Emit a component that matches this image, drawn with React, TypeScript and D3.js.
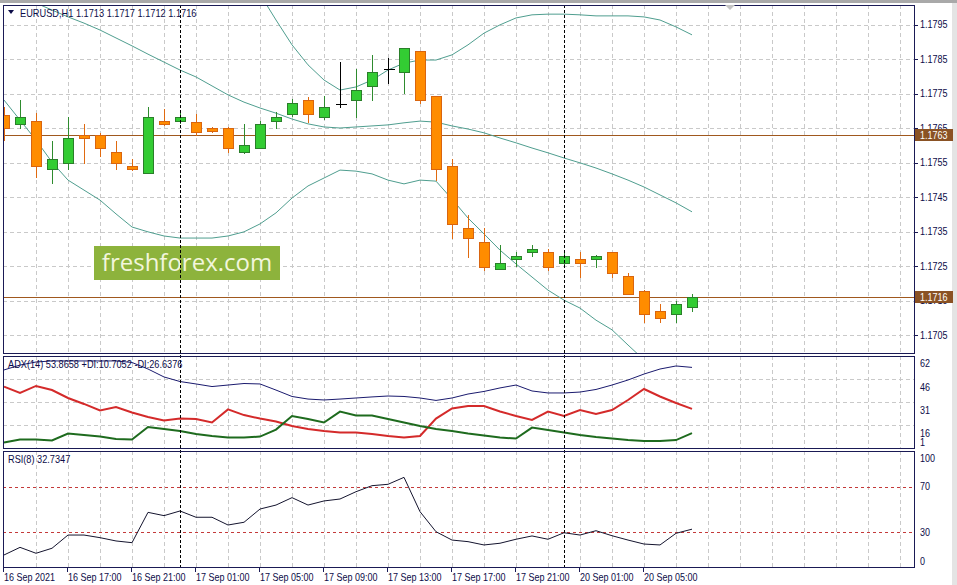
import React from "react";
import * as d3 from "d3";

// ---------- DATA ----------
const barTimes = [
  "16 Sep 13:00","16 Sep 14:00","16 Sep 15:00","16 Sep 16:00","16 Sep 17:00","16 Sep 18:00","16 Sep 19:00","16 Sep 20:00",
  "16 Sep 21:00","16 Sep 22:00","16 Sep 23:00","17 Sep 00:00","17 Sep 01:00","17 Sep 02:00","17 Sep 03:00","17 Sep 04:00",
  "17 Sep 05:00","17 Sep 06:00","17 Sep 07:00","17 Sep 08:00","17 Sep 09:00","17 Sep 10:00","17 Sep 11:00","17 Sep 12:00",
  "17 Sep 13:00","17 Sep 14:00","17 Sep 15:00","17 Sep 16:00","17 Sep 17:00","17 Sep 18:00","17 Sep 19:00","17 Sep 20:00",
  "17 Sep 21:00","17 Sep 22:00","17 Sep 23:00","20 Sep 00:00","20 Sep 01:00","20 Sep 02:00","20 Sep 03:00","20 Sep 04:00",
  "20 Sep 05:00","20 Sep 06:00","20 Sep 07:00","20 Sep 08:00",
];

const openP = [1.17688,1.17662,1.17670,1.17531,1.17549,1.17630,1.17630,1.17580,1.17540,1.17520,1.17670,1.17670,1.17667,1.17650,1.17650,1.17580,1.17592,1.17670,1.17691,1.17731,1.17682,1.17720,1.17731,1.17772,1.17821,1.17812,1.17873,1.17743,1.17540,1.17360,1.17320,1.17241,1.17270,1.17291,1.17291,1.17259,1.17270,1.17270,1.17291,1.17221,1.17178,1.17120,1.17111,1.1713];
const highP = [1.17711,1.17731,1.17693,1.17612,1.17682,1.17662,1.17636,1.17612,1.17560,1.17711,1.17705,1.17693,1.17691,1.17653,1.17653,1.17662,1.17670,1.17696,1.17734,1.17740,1.17743,1.17841,1.17821,1.17862,1.17853,1.17882,1.17873,1.17743,1.17560,1.17398,1.17360,1.17311,1.17291,1.17311,1.17299,1.17293,1.17291,1.17282,1.17291,1.17230,1.17180,1.17140,1.17149,1.1717];
const lowP = [1.17615,1.17650,1.17508,1.17491,1.17531,1.17549,1.17569,1.17531,1.17528,1.17520,1.17659,1.17665,1.17630,1.17638,1.17580,1.17578,1.17592,1.17650,1.17685,1.17667,1.17676,1.17711,1.17682,1.17731,1.17780,1.17751,1.17722,1.17499,1.17331,1.17276,1.17238,1.17241,1.17250,1.17279,1.17238,1.17256,1.17218,1.17247,1.17218,1.17169,1.17088,1.17088,1.17088,1.1712];
const closeP = [1.17650,1.17682,1.17540,1.17560,1.17621,1.17621,1.17592,1.17549,1.17531,1.17682,1.17662,1.17682,1.17638,1.17641,1.17592,1.17601,1.17662,1.17682,1.17722,1.17691,1.17711,1.17720,1.17760,1.17812,1.17821,1.17882,1.17731,1.17531,1.17372,1.17331,1.17247,1.17259,1.17279,1.17299,1.17247,1.17279,1.17259,1.17279,1.17230,1.17169,1.17111,1.17099,1.17140,1.1716];

const bbUpper = [1.18369,1.18386,1.18409,1.18433,1.18444,1.18438,1.18427,1.18421,1.18412,1.18380,1.18346,1.18305,1.18265,1.18212,1.18154,1.18102,1.18038,1.17963,1.17891,1.17833,1.17789,1.17760,1.17769,1.17789,1.17818,1.17838,1.17847,1.17847,1.17862,1.17891,1.17925,1.17949,1.17969,1.17978,1.17980,1.17980,1.17978,1.17975,1.17975,1.17975,1.17972,1.17963,1.17943,1.17920];
const bbMiddle = [1.18050,1.18030,1.18012,1.17992,1.17972,1.17954,1.17934,1.17911,1.17888,1.17864,1.17841,1.17818,1.17798,1.17772,1.17746,1.17725,1.17708,1.17693,1.17676,1.17662,1.17653,1.17650,1.17653,1.17656,1.17659,1.17665,1.17670,1.17667,1.17656,1.17647,1.17636,1.17621,1.17607,1.17592,1.17578,1.17563,1.17549,1.17534,1.17517,1.17499,1.17479,1.17456,1.17433,1.17407];
const bbLower = [1.17731,1.17673,1.17615,1.17551,1.17499,1.17470,1.17441,1.17401,1.17363,1.17349,1.17337,1.17331,1.17331,1.17331,1.17337,1.17349,1.17372,1.17404,1.17447,1.17482,1.17505,1.17528,1.17525,1.17517,1.17499,1.17488,1.17499,1.17496,1.17444,1.17389,1.17343,1.17296,1.17256,1.17218,1.17180,1.17151,1.17128,1.17093,1.17065,1.17021,1.16978,1.16934,1.16891,1.16847];

const adxMain = [52.2,55.4,57.4,58.1,58.1,58.1,58.1,58.1,57.1,52.8,47.6,44.6,43.0,41.3,42.3,43.3,43.0,39.0,34.8,33.1,32.5,33.1,33.8,34.5,35.1,34.8,33.8,32.2,33.8,36.4,38.1,40.4,42.3,38.4,37.1,37.1,37.7,39.4,42.3,45.6,49.5,52.8,54.8,53.8658];
const plusDI = [4.6,6.6,6.6,5.9,10.5,9.5,8.5,6.9,6.6,14.8,13.5,12.2,10.2,8.9,7.9,7.9,8.5,13.1,22.0,20.0,17.7,24.9,22.3,22.3,20.0,17.7,15.4,13.5,12.2,10.5,9.2,7.9,7.2,14.4,12.8,11.2,9.5,8.2,7.2,6.2,5.6,5.6,6.2,10.7052];
const minusDI = [41.3,37.1,41.7,39.0,33.8,29.9,25.6,27.9,24.3,21.3,19.0,20.3,20.0,17.7,26.3,22.6,20.3,18.4,15.4,13.5,12.2,11.2,11.2,10.2,8.9,7.9,8.9,20.3,26.9,28.5,28.5,24.9,22.0,19.4,24.9,22.0,25.9,23.3,25.9,32.5,39.7,34.8,30.5,26.6376];
const rsiVals = [10.1,16.8,11.6,16.0,27.6,27.6,25.3,22.4,20.9,47.5,44.6,48.7,43.2,43.2,36.4,38.8,50.4,53.9,60.4,53.9,57.5,59.2,65.6,70.9,72.1,78.2,48.1,30.5,23.2,21.8,18.9,20.4,23.9,26.8,23.9,29.6,27.6,31.4,27.0,23.2,19.7,18.9,29.1,32.7347];

const priceTicks = [1.1795,1.1785,1.1775,1.1765,1.1755,1.1745,1.1735,1.1725,1.1715,1.1705];
const priceLevels = [1.1763, 1.1716];
const adxTicks = [62, 46, 31, 16, 1];
const adxGrid = [46, 31, 16];
const rsiTicks = [100, 70, 30, 0];
const rsiLevels = [70, 30];
const timeTickBars = [0,4,8,12,16,20,24,28,32,36,40];
const timeTickLabels = ["16 Sep 2021","16 Sep 17:00","16 Sep 21:00","17 Sep 01:00","17 Sep 05:00","17 Sep 09:00","17 Sep 13:00","17 Sep 17:00","17 Sep 21:00","20 Sep 01:00","20 Sep 05:00"];
const daySeparatorBars = [11, 35];
const headerText = "EURUSD,H1  1.1713 1.1717 1.1712 1.1716";
const adxLabel = "ADX(14) 53.8658 +DI:10.7052 -DI:26.6376";
const rsiLabel = "RSI(8) 32.7347";
const watermark = "freshforex.com";

// ---------- LAYOUT ----------
const W = 957, H = 585;
const L = 3, R = 914;
const mainTop = 5, mainBot = 353;
const adxTop = 356, adxBot = 448;
const rsiTop = 451, rsiBot = 567;

const FONT = "'Liberation Sans', Arial, sans-serif";
const NAVY = "#0c0c48";
const FRAME = "#1a1a55";
const GRID = "#c9c9c9";
const BAND = "#4f9e8f";
const LEVEL = "#a0581e";

const x = d3.scaleLinear().domain([0, barTimes.length - 1]).range([4, 4 + 16 * (barTimes.length - 1)]);
const yP = d3.scaleLinear().domain([1.1705, 1.1795]).range([335, 24.5]);
const yA = d3.scaleLinear().domain([1, 62]).range([adxBot, adxTop - 1]);
const yR = d3.scaleLinear().domain([30, 70]).range([532.3, 486.7]);

const px = (v: number) => Math.round(v) + 0.5;

// narrow (Tahoma-like) text
function T(props: { x: number; y: number; size?: number; fill?: string; sx?: number; children: React.ReactNode }) {
  const { x: tx, y: ty, size = 10, fill = NAVY, sx = 0.9, children } = props;
  return (
    <text transform={`translate(${tx},${ty}) scale(${sx},1)`} fontSize={size} fill={fill}>{children}</text>
  );
}

export default function App() {
  const bandLine = d3.line<number>().x((_, i) => x(i)).y((d) => yP(d));
  const adxLine = d3.line<number>().x((_, i) => x(i)).y((d) => yA(d));
  const rsiLine = d3.line<number>().x((_, i) => x(i)).y((d) => yR(d));

  const gridXs = d3.range(1, 29).map((j) => px(x(2 * j)));

  return (
    <svg width={W} height={H} style={{ position: "absolute", left: 0, top: 0, background: "#fff" }} fontFamily={FONT}>
      <defs>
        <clipPath id="cMain"><rect x={L} y={mainTop} width={R - L} height={mainBot - mainTop} /></clipPath>
        <clipPath id="cAdx"><rect x={L} y={adxTop} width={R - L} height={adxBot - adxTop} /></clipPath>
        <clipPath id="cRsi"><rect x={L} y={rsiTop} width={R - L} height={rsiBot - rsiTop} /></clipPath>
      </defs>
      <rect x={0} y={0} width={W} height={H} fill="#ffffff" />
      <rect x={0} y={0} width={W} height={3} fill="#a9a9a9" />
      <rect x={952} y={3} width={5} height={H - 3} fill="#e4e4e4" />

      {/* grid */}
      <g stroke={GRID} strokeDasharray="4,3" shapeRendering="crispEdges">
        {gridXs.map((gx, i) => (
          <g key={"gx" + i}>
            <line x1={gx} x2={gx} y1={mainTop} y2={mainBot} />
            <line x1={gx} x2={gx} y1={adxTop} y2={adxBot} />
            <line x1={gx} x2={gx} y1={rsiTop} y2={rsiBot} />
          </g>
        ))}
        {priceTicks.map((p) => (
          <line key={"gp" + p} x1={L} x2={R} y1={px(yP(p))} y2={px(yP(p))} />
        ))}
        {adxGrid.map((v) => (
          <line key={"ga" + v} x1={L} x2={R} y1={px(yA(v))} y2={px(yA(v))} />
        ))}
      </g>

      {/* watermark */}
      <rect x={94} y={246} width={186} height={34} fill="#8db33c" />
      <text x={187} y={271} textAnchor="middle" fontFamily="'Open Sans', sans-serif" fontSize={24} fill="#f2f6dc">{watermark}</text>

      {/* main panel content */}
      <g clipPath="url(#cMain)">
        {priceLevels.map((p) => (
          <line key={"lv" + p} x1={L} x2={R} y1={px(yP(p))} y2={px(yP(p))} stroke={LEVEL} strokeWidth={1} shapeRendering="crispEdges" />
        ))}
        {[bbUpper, bbMiddle, bbLower].map((arr, i) => (
          <path key={"bb" + i} d={bandLine(arr) || ""} fill="none" stroke={BAND} strokeWidth={1} />
        ))}
        {barTimes.map((t, i) => {
          const o = openP[i], c = closeP[i], h = highP[i], l = lowP[i];
          const cx = px(x(i));
          const doji = o === c;
          const bull = c > o;
          const wickColor = doji ? "#000000" : bull ? "#2e8b2e" : "#e06a10";
          const yTop = Math.round(yP(Math.max(o, c))) + 0.5;
          const yBot = Math.round(yP(Math.min(o, c))) + 0.5;
          return (
            <g key={t} shapeRendering="crispEdges">
              <line x1={cx} x2={cx} y1={Math.round(yP(h))} y2={Math.round(yP(l)) + 1} stroke={wickColor} />
              {doji ? (
                <line x1={cx - 5} x2={cx + 6} y1={yTop} y2={yTop} stroke="#000000" />
              ) : (
                <rect x={cx - 5} y={yTop} width={10} height={Math.max(1, yBot - yTop)}
                  fill={bull ? "#33cc33" : "#ff8c00"} stroke={bull ? "#2a7f2a" : "#d9650f"} strokeWidth={1} />
              )}
            </g>
          );
        })}
      </g>

      {/* ADX panel */}
      <g clipPath="url(#cAdx)">
        <path d={adxLine(adxMain) || ""} fill="none" stroke="#1a1a6e" strokeWidth={1} />
        <path d={adxLine(minusDI) || ""} fill="none" stroke="#d42a2a" strokeWidth={2} />
        <path d={adxLine(plusDI) || ""} fill="none" stroke="#1e6b1e" strokeWidth={2} />
      </g>

      {/* RSI panel */}
      <g clipPath="url(#cRsi)">
        {rsiLevels.map((v) => (
          <line key={"rl" + v} x1={L} x2={R} y1={px(yR(v))} y2={px(yR(v))} stroke="#c43a3a" strokeDasharray="3,3" shapeRendering="crispEdges" />
        ))}
        <path d={rsiLine(rsiVals) || ""} fill="none" stroke="#14142e" strokeWidth={1} />
      </g>

      {/* day separators */}
      <g stroke="#000000" strokeDasharray="3,2" shapeRendering="crispEdges">
        {daySeparatorBars.map((b) => (
          <line key={"sep" + b} x1={px(x(b))} x2={px(x(b))} y1={mainTop} y2={rsiBot} />
        ))}
      </g>

      {/* frames */}
      <g fill="none" stroke={FRAME} strokeWidth={1} shapeRendering="crispEdges">
        <rect x={L + 0.5} y={mainTop + 0.5} width={R - L} height={mainBot - mainTop} />
        <rect x={L + 0.5} y={adxTop + 0.5} width={R - L} height={adxBot - adxTop} />
        <rect x={L + 0.5} y={rsiTop + 0.5} width={R - L} height={rsiBot - rsiTop} />
      </g>

      {/* chart shift marker */}
      <path d="M725,5 L735,5 L730,10 Z" fill="#c4c4c4" />

      {/* header labels */}
      <path d="M8,10 L14,10 L11,14 Z" fill={NAVY} />
      <T x={20} y={17} size={10.5} sx={0.88}>{headerText}</T>
      <T x={8} y={368} sx={0.92}>{adxLabel}</T>
      <T x={8} y={463} sx={0.92}>{rsiLabel}</T>

      {/* price axis */}
      <g shapeRendering="crispEdges" stroke={FRAME}>
        {priceTicks.map((p) => (
          <line key={"pt" + p} x1={R} x2={R + 4} y1={px(yP(p))} y2={px(yP(p))} />
        ))}
      </g>
      {priceTicks.map((p) => (
        <T key={"pl" + p} x={920} y={yP(p) + 3.5}>{p.toFixed(4)}</T>
      ))}
      {priceLevels.map((p) => (
        <g key={"lb" + p}>
          <rect x={915} y={Math.round(yP(p)) - 6} width={38} height={12} fill="#8a5224" />
          <T x={920} y={Math.round(yP(p)) + 4} fill="#ffffff">{p.toFixed(4)}</T>
        </g>
      ))}

      {/* ADX axis */}
      {adxTicks.map((v) => (
        <T key={"at" + v} x={920} y={v === 1 ? yA(v) - 2 : yA(v) + 12}>{v}</T>
      ))}
      {/* RSI axis */}
      {rsiTicks.map((v) => (
        <T key={"rt" + v} x={920} y={v === 100 ? yR(v) + 9 : v === 0 ? yR(v) - 2 : yR(v) + 3.5}>{v}</T>
      ))}

      {/* time axis */}
      <g stroke={FRAME} shapeRendering="crispEdges">
        {timeTickBars.map((b) => (
          <line key={"tt" + b} x1={px(x(b)) - 1} x2={px(x(b)) - 1} y1={rsiBot} y2={rsiBot + 5} />
        ))}
      </g>
      {timeTickBars.map((b, i) => (
        <T key={"tl" + b} x={x(b)} y={581}>{timeTickLabels[i]}</T>
      ))}
    </svg>
  );
}
